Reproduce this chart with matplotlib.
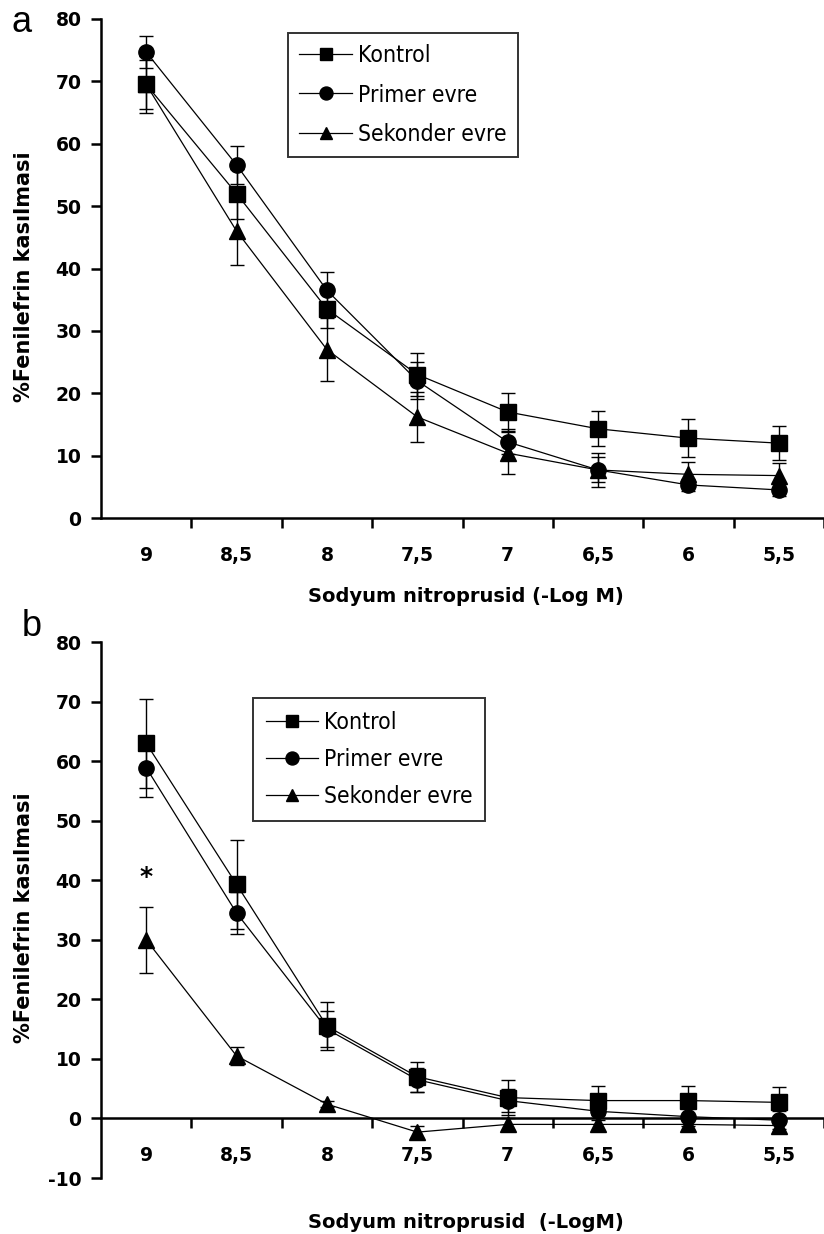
import matplotlib
matplotlib.use("Agg")
import matplotlib.pyplot as plt
from matplotlib import font_manager as fm
import numpy as np

x_labels = ['9', '8,5', '8', '7,5', '7', '6,5', '6', '5,5']
series_names = ['Kontrol', 'Primer evre', 'Sekonder evre']
markers = ['s', 'o', '^']

a_kontrol = [69.5, 52.0, 33.5, 23.0, 17.0, 14.3, 12.8, 12.0]
a_kontrol_err = [4.5, 4.0, 3.0, 3.5, 3.0, 2.8, 3.0, 2.7]
a_primer = [74.7, 56.6, 36.5, 22.0, 12.2, 7.7, 5.3, 4.5]
a_primer_err = [2.5, 3.0, 3.0, 3.0, 2.0, 2.0, 1.0, 1.0]
a_sekonder = [69.5, 46.0, 27.0, 16.2, 10.4, 7.7, 7.0, 6.8]
a_sekonder_err = [4.0, 5.5, 5.0, 4.0, 3.4, 2.7, 2.0, 2.0]

b_kontrol = [63.0, 39.3, 15.5, 7.0, 3.5, 3.0, 3.0, 2.7]
b_kontrol_err = [7.5, 7.5, 4.0, 2.5, 3.0, 2.5, 2.5, 2.5]
b_primer = [58.9, 34.5, 15.0, 6.5, 3.0, 1.2, 0.3, -0.3]
b_primer_err = [5.0, 3.5, 3.0, 2.0, 2.0, 1.5, 1.5, 1.5]
b_sekonder = [30.0, 10.5, 2.4, -2.3, -1.0, -1.0, -1.0, -1.2]
b_sekonder_err = [5.5, 1.5, 0.5, 1.0, 1.0, 1.0, 1.0, 1.0]

ylabel = '%Fenilefrin kasılmasi'
xlabel_a = 'Sodyum nitroprusid (-Log M)'
xlabel_b = 'Sodyum nitroprusid  (-LogM)'

plt.rcParams['font.family'] = ['DejaVu Sans']
plt.rcParams['font.weight'] = 'bold'
plt.rcParams['xtick.labelsize'] = 13.5
plt.rcParams['ytick.labelsize'] = 13.5

W, H = 824, 1234
fig = plt.figure(figsize=(W / 100, H / 100), dpi=100)

# pick a narrow font for the legend if one is installed
_fonts = fm.fontManager.ttflist
_names = {f.name for f in _fonts}
if any(f.name == 'DejaVu Sans' and 'ondensed' in f.fname for f in _fonts):
    LEG_PROP = dict(family='DejaVu Sans', stretch='condensed', weight='normal', size=16.5)
elif 'Liberation Sans Narrow' in _names:
    LEG_PROP = dict(family='Liberation Sans Narrow', weight='normal', size=17)
else:
    LEG_PROP = dict(family='Liberation Sans', weight='normal', size=14)


def px_axes(left, right, top, bottom):
    return fig.add_axes([left / W, 1 - bottom / H, (right - left) / W, (bottom - top) / H])


def draw_panel(ax, data, ylim, yticks, xlabel, leg_xy, xlab_y, ylab_y, lspace, bpad):
    x = np.arange(len(x_labels))
    handles = []
    for (vals, errs), name, m in zip(data, series_names, markers):
        ax.errorbar(x, vals, yerr=errs, fmt='none', ecolor='black', elinewidth=1.0,
                    capsize=5, capthick=1.0, zorder=2)
        h, = ax.plot(x, vals, color='black', lw=0.9, marker=m, markersize=11,
                     markerfacecolor='black', markeredgecolor='black', zorder=3, label=name)
        handles.append(h)
    ax.set_xlim(-0.5, (W - 148) / 91.0)
    ax.set_ylim(*ylim)
    ax.set_yticks(yticks)
    ax.set_yticklabels([str(v) for v in yticks])
    ax.set_xticks(np.arange(len(x_labels)) + 0.5)
    ax.set_xticklabels([])
    ax.set_xticks(x, minor=True)
    ax.set_xticklabels(x_labels, minor=True)
    ax.tick_params(axis='x', which='minor', length=0, pad=20, labelsize=13.5)
    ax.tick_params(axis='x', which='major', direction='out', length=7, width=1.8)
    ax.tick_params(axis='y', direction='out', length=7, width=1.8, pad=7)
    for s in ['top', 'right']:
        ax.spines[s].set_visible(False)
    for s in ['left', 'bottom']:
        ax.spines[s].set_linewidth(1.8)
    ax.spines['bottom'].set_position(('data', 0))
    leg = fig.legend(handles=handles, loc='upper left',
                     bbox_to_anchor=(leg_xy[0] / W, 1 - leg_xy[1] / H),
                     bbox_transform=fig.transFigure, borderaxespad=0,
                     frameon=True, fancybox=False, edgecolor='black',
                     prop=LEG_PROP, handlelength=2.3,
                     handletextpad=0.25, labelspacing=lspace, borderpad=bpad,
                     markerscale=0.85)
    leg.get_frame().set_linewidth(1.4)
    fig.text(466 / W, 1 - xlab_y / H, xlabel, ha='center', va='center', fontsize=14)
    fig.text(24 / W, 1 - ylab_y / H, ylabel, ha='center', va='center', rotation=90,
             fontsize=15)


ax_a = px_axes(101, W, 19, 518)
draw_panel(ax_a, [(a_kontrol, a_kontrol_err), (a_primer, a_primer_err),
                  (a_sekonder, a_sekonder_err)],
           (0, 80), list(range(0, 81, 10)), xlabel_a, (288, 33), 597, 277, 0.7, 0.5)

ax_b = px_axes(101, W, 642, 1178)
draw_panel(ax_b, [(b_kontrol, b_kontrol_err), (b_primer, b_primer_err),
                  (b_sekonder, b_sekonder_err)],
           (-10, 80), list(range(-10, 81, 10)), xlabel_b, (253, 698), 1222, 918, 0.62, 0.55)
ax_b.text(0, 40.5, '*', ha='center', va='center', fontsize=18)

fig.text(22 / W, 1 - 22 / H, 'a', ha='center', va='center', fontsize=26,
         family='Liberation Sans', weight='normal')
fig.text(32 / W, 1 - 626 / H, 'b', ha='center', va='center', fontsize=26,
         family='Liberation Sans', weight='normal')

fig.savefig('out.png', dpi=100)
